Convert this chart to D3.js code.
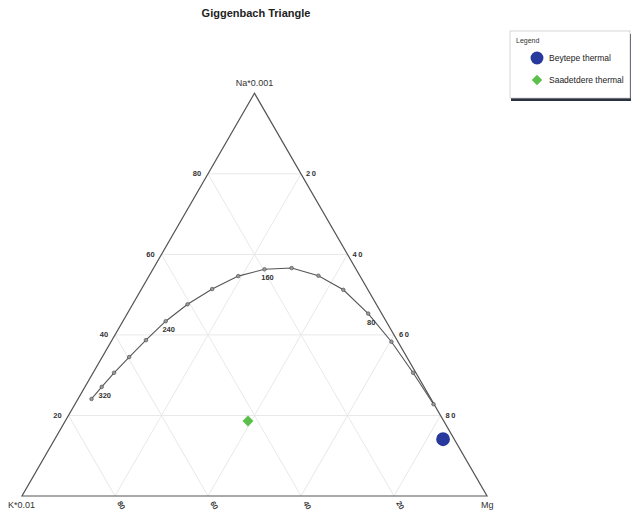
<!DOCTYPE html>
<html>
<head>
<meta charset="utf-8">
<script src="https://cdn.jsdelivr.net/npm/d3@7"></script>
<style>
  body { margin: 0; background: #fff; }
  svg { font-family: "Liberation Sans", Arial, sans-serif; }
</style>
</head>
<body>
<div id="chart"></div>
<script>
// full equilibrium curve (percent of Na/1000, K/100, Mg)
const temps   = [340, 320, 300, 280, 260, 240, 220, 200, 180, 160, 140, 120, 100, 80, 60, 40, 20];
const curveNa = [24.1, 27.1, 30.6, 34.5, 38.7, 43.4, 47.6, 51.4, 54.6, 56.3, 56.6, 54.7, 51.2, 45.3, 38.3, 30.6, 22.8];
const curveK  = [73.0, 69.3, 64.9, 59.7, 54.0, 47.4, 40.6, 33.4, 26.2, 19.7, 13.7, 8.9, 5.3, 2.9, 1.4, 0.6, 0.1];
const curveMg = [2.9, 3.6, 4.5, 5.8, 7.3, 9.2, 11.8, 15.2, 19.2, 24.0, 29.7, 36.4, 43.5, 51.8, 60.3, 68.8, 77.1];
const labelledTemps = [320, 240, 160, 80];

// samples
const sampleNames = ["Beytepe thermal", "Saadetdere thermal"];
const sampleNa = [14.1, 18.6];
const sampleK  = [2.4, 42.1];
const sampleMg = [83.5, 39.3];

const gridTicks = [20, 40, 60, 80];

const W = 632, H = 515;
const xK = 22, yBase = 496, side = 465;
const tri = side * Math.sqrt(3) / 2;

const svg = d3.select("#chart").append("svg")
    .attr("width", W)
    .attr("height", H);

// ternary scales
const y = d3.scaleLinear().domain([0, 100]).range([yBase, yBase - tri]);
const x = d3.scaleLinear().domain([0, 100]).range([xK, xK + side]);
const px = (na, k, mg) => x(mg + na / 2);
const py = (na, k, mg) => y(na);

// title
svg.append("text")
    .attr("x", 256).attr("y", 17)
    .attr("text-anchor", "middle")
    .attr("font-size", 11).attr("font-weight", "bold")
    .attr("fill", "#222")
    .text("Giggenbach Triangle");

// grid
const grid = svg.append("g").attr("stroke", "#e8e8e8").attr("stroke-width", 1);
gridTicks.forEach(t => {
    const segs = [
        [[t, 100 - t, 0], [t, 0, 100 - t]],   // Na const
        [[100 - t, t, 0], [0, t, 100 - t]],   // K const
        [[100 - t, 0, t], [0, 100 - t, t]]    // Mg const
    ];
    segs.forEach(s => {
        grid.append("line")
            .attr("x1", px(...s[0])).attr("y1", py(...s[0]))
            .attr("x2", px(...s[1])).attr("y2", py(...s[1]));
    });
});

// triangle outline
const corners = [[0, 100, 0], [0, 0, 100], [100, 0, 0]];
svg.append("path")
    .attr("d", d3.line()(corners.map(c => [px(...c), py(...c)])) + "Z")
    .attr("fill", "none")
    .attr("stroke", "#555")
    .attr("stroke-width", 1.2);

// corner labels
svg.append("text").attr("x", px(100, 0, 0)).attr("y", py(100, 0, 0) - 7)
    .attr("text-anchor", "middle").attr("font-size", 9).attr("fill", "#333").text("Na*0.001");
svg.append("text").attr("x", px(0, 100, 0) - 14).attr("y", py(0, 100, 0) + 12)
    .attr("font-size", 9).attr("fill", "#333").text("K*0.01");
svg.append("text").attr("x", px(0, 0, 100) - 6).attr("y", py(0, 0, 100) + 12)
    .attr("font-size", 9).attr("fill", "#333").text("Mg");

// tick labels
const ticks = svg.append("g").attr("font-size", 7.5).attr("font-weight", "bold").attr("fill", "#333");
gridTicks.forEach(t => {
    // left edge: Na
    ticks.append("text")
        .attr("x", px(t, 100 - t, 0) - 11).attr("y", py(t, 100 - t, 0) + 2.5)
        .attr("text-anchor", "middle").text(t);
    // right edge: Mg
    ticks.append("text")
        .attr("x", px(100 - t, 0, t) + 5).attr("y", py(100 - t, 0, t) + 2.5)
        .attr("letter-spacing", 1.5).text(t);
    // bottom edge: K
    const bx = px(0, t, 100 - t) + 2, by = py(0, t, 100 - t) + 7;
    ticks.append("text")
        .attr("transform", `translate(${bx},${by}) rotate(60)`)
        .text(t);
});

// equilibrium curve
const pts = temps.map((t, i) => [px(curveNa[i], curveK[i], curveMg[i]), py(curveNa[i], curveK[i], curveMg[i]), t]);
svg.append("path")
    .attr("d", d3.line()(pts.map(p => [p[0], p[1]])))
    .attr("fill", "none")
    .attr("stroke", "#555")
    .attr("stroke-width", 1.1);
svg.append("g").selectAll("circle")
    .data(pts).join("circle")
    .attr("cx", d => d[0]).attr("cy", d => d[1])
    .attr("r", 1.8)
    .attr("fill", "#999").attr("stroke", "#444").attr("stroke-width", 0.6);
svg.append("g").selectAll("text")
    .data(pts.filter(p => labelledTemps.includes(p[2]))).join("text")
    .attr("x", d => d[0] + 3).attr("y", d => d[1] + 11)
    .attr("text-anchor", "middle")
    .attr("font-size", 7.5).attr("font-weight", "bold").attr("fill", "#333")
    .text(d => d[2]);

// samples
const sampleColor = ["#27399c", "#5cbf4b"];
sampleNames.forEach((n, i) => {
    svg.append("path")
        .attr("transform", `translate(${px(sampleNa[i], sampleK[i], sampleMg[i])},${py(sampleNa[i], sampleK[i], sampleMg[i])})${i == 1 ? " rotate(45)" : ""}`)
        .attr("d", d3.symbol().type(i == 0 ? d3.symbolCircle : d3.symbolSquare).size(i == 0 ? 150 : 60)())
        .attr("fill", sampleColor[i]);
});

// legend
const lg = svg.append("g").attr("transform", "translate(510,31)");
lg.append("rect").attr("x", 1).attr("y", 3).attr("width", 120).attr("height", 67).attr("fill", "#2b3140");
lg.append("rect").attr("width", 120).attr("height", 67).attr("fill", "#fff").attr("stroke", "#ccc").attr("stroke-width", 0.8);
lg.append("text").attr("x", 6).attr("y", 12).attr("font-size", 7).attr("fill", "#333").text("Legend");
sampleNames.forEach((n, i) => {
    const yy = 27 + i * 22;
    lg.append("path")
        .attr("transform", `translate(27,${yy})${i == 1 ? " rotate(45)" : ""}`)
        .attr("d", d3.symbol().type(i == 0 ? d3.symbolCircle : d3.symbolSquare).size(i == 0 ? 130 : 55)())
        .attr("fill", sampleColor[i]);
    lg.append("text").attr("x", 39).attr("y", yy + 3).attr("font-size", 8.5).attr("fill", "#222").text(n);
});
</script>
</body>
</html>
